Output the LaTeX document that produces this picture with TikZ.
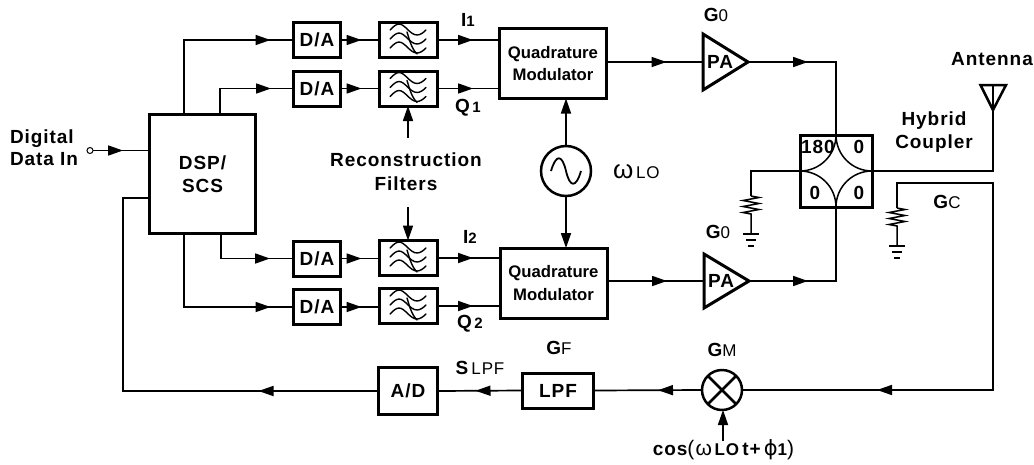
\documentclass[tikz,border=0pt]{standalone}
\usepackage{fontspec}
\setmainfont[LetterSpace=5]{Liberation Sans}
\newfontfamily\phifont{DejaVu Sans}
\newfontfamily\qmfont[LetterSpace=0,BoldFont={Liberation Sans Bold}]{Liberation Sans}
\usetikzlibrary{arrows.meta,decorations.markings,calc}
\tikzset{
  x=1pt,y=-1pt,
  wire/.style={line width=1.7pt,line join=miter,black},
  tipp/.tip={Triangle[length=15pt,width=10pt]},
  marr/.style={postaction={decorate},decoration={markings,mark=at position #1 with {\arrow{tipp}}}},
  blockbox/.style={draw,line width=3pt,inner sep=0pt,outer sep=0pt,align=center,font=\lbl},
  lab/.style={inner sep=0pt,outer sep=0pt,align=center,font=\lbl},
  dabox/.style={blockbox,minimum width=47pt,minimum height=35pt},
  fbox/.style={blockbox,minimum width=58pt,minimum height=35pt},
  qmbox/.style={blockbox,minimum width=107pt,minimum height=70pt,font=\qmf},
  wav/.pic={
    \draw[line width=1.4pt,line cap=round]
      (-18,-10) .. controls (-15,-13) and (-12,-16) .. (-9,-16)
      .. controls (-3,-16) and (2,-5) .. (9,-5) .. controls (12,-5) and (15,-7) .. (18,-10);
    \draw[line width=1.4pt,line cap=round]
      (-18,-1) .. controls (-15,-4) and (-12,-7) .. (-9,-7)
      .. controls (-3,-7) and (2,4) .. (9,4) .. controls (12,4) and (15,2) .. (18,-1);
    \draw[line width=1.4pt,line cap=round]
      (-18,8) .. controls (-15,5) and (-12,2) .. (-9,2)
      .. controls (-3,2) and (2,13) .. (9,13) .. controls (12,13) and (15,11) .. (18,8);
    \draw[line width=1.4pt,line cap=round]
      (-1,-8) .. controls (1,-2) and (3,8) .. (9,14);
  },
  resgnd/.pic={
    \draw[line width=1.5pt]
      (0,0) -- (8,1.5) -- (-8,4.5) -- (8,7.5) -- (-8,10.5) -- (8,13.5) -- (-8,16.5) -- (0,18) -- (0,37);
    \draw[line width=2.5pt] (-8,38) -- (8,38);
    \draw[line width=2.5pt] (-5,44) -- (5,44);
    \draw[line width=2.5pt] (-3,50) -- (3,50);
  },
}
\newcommand{\lbl}{\bfseries\fontsize{19}{23}\selectfont}
\newcommand{\qmf}{\qmfont\bfseries\fontsize{16.7}{22.5}\selectfont}
\newcommand{\sbs}[1]{{\fontsize{15}{15}\selectfont #1}}
\newcommand{\sbr}[1]{{\mdseries\fontsize{17}{17}\selectfont #1}}
\begin{document}
\begin{tikzpicture}
\useasboundingbox (0,0) rectangle (1034,464);
% blocks
\node[blockbox,minimum width=106pt,minimum height=119pt] (dsp) at (202.5,174) {DSP/\\SCS};
\node[dabox] (da1) at (317,40) {D/A};
\node[dabox] (da2) at (317,88.5) {D/A};
\node[dabox] (da3) at (317,258.5) {D/A};
\node[dabox] (da4) at (317,307) {D/A};
\node[fbox] (f1) at (408,40) {};
\node[fbox] (f2) at (408,88.5) {};
\node[fbox] (f3) at (408,258) {};
\node[fbox] (f4) at (408,306) {};
\foreach \f in {f1,f2,f3,f4} \pic at (\f) {wav};
\node[qmbox] (qm1) at (553,63.5) {Quadrature\\Modulator};
\node[qmbox] (qm2) at (553.5,283) {Quadrature\\Modulator};
\node[blockbox,minimum width=59pt,minimum height=47pt] (ad) at (408,391) {A/D};
\node[blockbox,minimum width=71pt,minimum height=35pt] (lpf) at (558,390.5) {LPF};
\node[draw,circle,line width=2.5pt,minimum size=50pt,inner sep=0pt,outer sep=0pt] (osc) at (566,171) {};
\draw[line width=1.8pt] ($(osc)+(-15,0)$) .. controls ($(osc)+(-10,-17)$) and ($(osc)+(-4,-17)$) .. (osc.center)
  .. controls ($(osc)+(4,17)$) and ($(osc)+(10,17)$) .. ($(osc)+(15,0)$);
\node[draw,circle,line width=2.5pt,minimum size=40pt,inner sep=0pt,outer sep=0pt] (mix) at (722,390) {};
\draw[line width=2.5pt] (mix.north west) -- (mix.south east) (mix.north east) -- (mix.south west);
% PA triangles
\coordinate (pa1i) at (703,62); \coordinate (pa1o) at (748,62);
\coordinate (pa2i) at (704,281); \coordinate (pa2o) at (749,281);
\draw[line width=3pt,line join=miter] (703,34) -- (pa1o) -- (703,90) -- cycle;
\draw[line width=3pt,line join=miter] (704,254) -- (pa2o) -- (704,308) -- cycle;
\node[lab] (pa1) at (720,62) {PA};
\node[lab] (pa2) at (721,281) {PA};
% coupler
\node[draw,line width=3pt,minimum width=72pt,minimum height=72pt,inner sep=0pt,outer sep=0pt] (hc) at (836,171) {};
\draw[line width=1.5pt] (hc.north) arc[start angle=0,end angle=90,radius=36];
\draw[line width=1.5pt] (hc.north) arc[start angle=180,end angle=90,radius=36];
\draw[line width=1.5pt] (hc.south) arc[start angle=0,end angle=-90,radius=36];
\draw[line width=1.5pt] (hc.south) arc[start angle=180,end angle=270,radius=36];
\node[lab] at (818,147) {180};
\node[lab] at (859,147) {0};
\node[lab] at (815,193) {0};
\node[lab] at (859,193) {0};
% antenna
\coordinate (ant) at (993,110);
\draw[line width=2.5pt,line join=miter] (980.5,85) -- (1006,85) -- (ant) -- cycle;
\draw[line width=1.5pt] (993,85) -- (ant);
% resistors
\coordinate (r1) at (751,196);
\coordinate (r2) at (897,208);
\pic at (r1) {resgnd};
\pic at (r2) {resgnd};
% free ends
\node[draw,circle,line width=1pt,minimum size=6pt,inner sep=0pt,outer sep=0pt] (port) at (90,150.5) {};
\coordinate (dspa) at (184,114.5);
\coordinate (dspb) at (220,114.5);
\coordinate (dspc) at (221,233.5);
\coordinate (dspd) at (184,233.5);
\coordinate (fbk) at (123,198);
\coordinate (fbin) at (149.5,198);
\coordinate (dspin) at (149.5,150.5);
\coordinate (coswire) at (723,441);
\coordinate (up) at (408,138);
\coordinate (dn) at (408,207);
\coordinate (bend) at (993,183);
% connectors
\draw[wire,marr=30pt] (port.east) -- (dspin);
\draw[wire,marr=161pt] (dspa) |- (da1.west);
\draw[wire,marr=77pt] (dspb) |- (da2.west);
\draw[wire,marr=74pt] (dspc) |- (da3.west);
\draw[wire,marr=160pt] (dspd) |- (da4.west);
\foreach \a/\b in {da1/f1,da2/f2,da3/f3,da4/f4}
  \draw[wire,marr=21pt] (\a.east) -- (\a.east -| \b.west);
\draw[wire,marr=36pt] (f1.east) -- (f1.east -| qm1.west);
\draw[wire,marr=36pt] (f2.east) -- (f2.east -| qm1.west);
\draw[wire,marr=36pt] (f3.east) -- (f3.east -| qm2.west);
\draw[wire,marr=36pt] (f4.east) -- (f4.east -| qm2.west);
\draw[wire,marr=60pt] (qm1.east |- pa1i) -- (pa1i);
\draw[wire,marr=60pt] (qm2.east |- pa2i) -- (pa2i);
\draw[wire,marr=60pt] (pa1o) -| (hc.north);
\draw[wire,marr=59pt] (pa2o) -| (hc.south);
\draw[wire,-{tipp}] (osc.north) -- (qm1.south -| osc);
\draw[wire,-{tipp}] (osc.south) -- (qm2.north -| osc);
\draw[wire] (hc.west) -| (r1);
\draw[wire] (hc.east) -| (ant);
\draw[wire,marr=444pt] (r2) |- (bend) |- (mix.east);
\draw[wire,marr=44pt] (mix.west) -- (lpf.east);
\draw[wire,marr=47pt] (lpf.west) -- (ad.east);
\draw[wire,marr=120pt] (ad.west) -| (fbk) -- (fbin);
\draw[wire,-{tipp}] (coswire) -- (mix.south -| coswire);
\draw[wire,-{tipp}] (up) -- (f2.south);
\draw[wire,-{tipp}] (dn) -- (f3.north);
% labels
\node[lab,align=left,anchor=west] (digi) at (10,147.5) {Digital\\[-1pt]Data In};
\node[lab] (rec) at (406,172) {Reconstruction\\[1pt]Filters};
\node[lab] (i1) at (468,20) {I\sbs{1}};
\node[lab] (q1) at (468,108) {Q\sbs{\,1}};
\node[lab] (i2) at (470,237) {I\sbs{2}};
\node[lab] (q2) at (470,324) {Q\sbs{\,2}};
\node[lab] (slpf) at (480,368) {S\,\sbr{LPF}};
\node[lab] (gf) at (559,348) {G\sbr{F}};
\node[lab] (gm) at (722,350) {G\sbr{M}};
\node[lab] (g01) at (716,15) {G\sbr{0}};
\node[lab] (g02) at (718,232) {G\sbr{0}};
\node[lab] (gc) at (947,202) {G\sbr{C}};
\node[lab] (anttxt) at (992,59) {Antenna};
\node[lab] (hyb) at (934,132.5) {Hybrid\\[0pt]Coupler};
\node[lab,anchor=west] (wlo) at (613,172) {\mdseries\fontsize{26}{26}\selectfont ω\fontsize{17}{17}\selectfont\,LO};
\node[lab] (cos) at (723.5,450) {cos\mdseries\fontsize{21}{21}\selectfont(ω\fontsize{17}{17}\selectfont\bfseries\,LO\fontsize{19}{19}\selectfont\,t+\,{\mdseries\phifont\fontsize{21}{21}\selectfont ϕ}\fontsize{17}{17}\selectfont 1\mdseries\fontsize{21}{21}\selectfont)};
\end{tikzpicture}
\end{document}
